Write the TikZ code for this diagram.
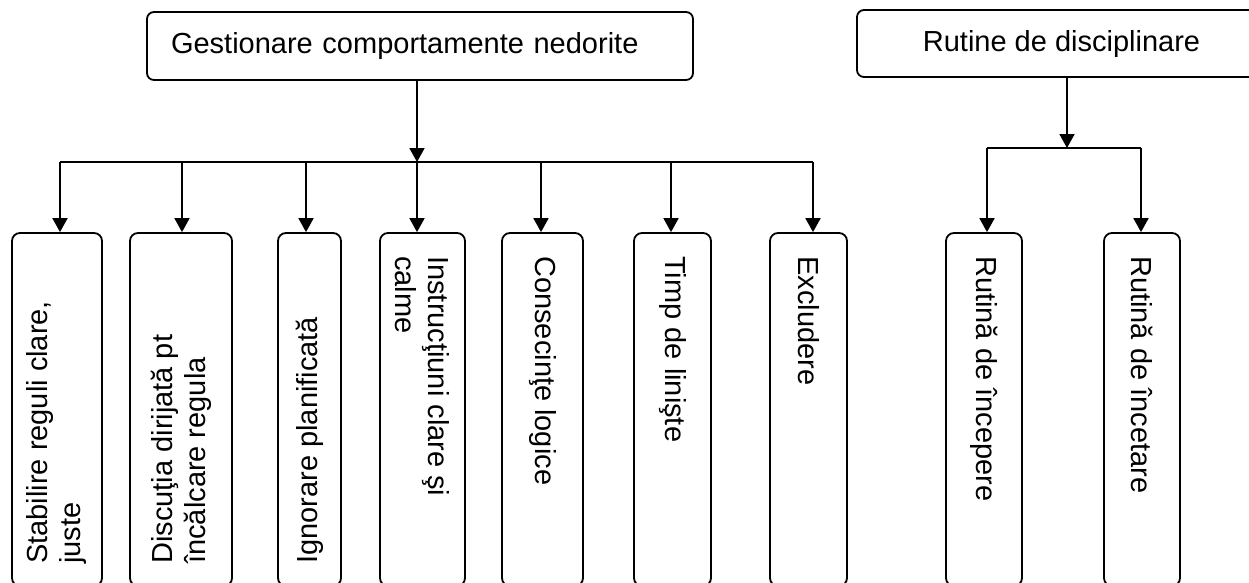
\documentclass[tikz,border=0pt]{standalone}
\usepackage{fontspec}
\setmainfont{Liberation Sans}
\usetikzlibrary{arrows.meta}
\tikzset{
    headbox/.style ={
        rectangle,              % box on top
        rounded corners = 7pt,  % corners
        line width = 1.8pt,     % border
        draw = black,           % border colour
        font = \fontsize{29}{33}\selectfont
    },
    leafbox/.style ={
        rectangle,              % tall box below
        rounded corners = 8pt,  % corners
        line width = 1.8pt,     % border
        minimum height = 353pt, % height
        inner sep = 0pt,
        draw = black
    },
    leaftext/.style ={
        inner sep = 0pt,        % text starts right at the anchor
        align = left,
        anchor = west,
        font = \fontsize{29}{33}\selectfont
    },
    arr/.style ={
        line width = 1.8pt,
        -{Triangle[length=14pt,width=15pt]}
    }
}
\begin{document}
\begin{tikzpicture}[x=1pt, y=-1pt]
    \useasboundingbox (0,0) rectangle (1249,582);
    \clip (0,0) rectangle (1249,582);
    \node[headbox, text width=498pt, inner xsep=24pt, minimum height=68pt, align=left] (a) at(420,46) {Gestionare comportamente nedorite};
    \node[headbox, minimum width=409pt, minimum height=67pt] (b) at(1061.5,43.5) {Rutine de disciplinare};

    \node[leafbox, minimum width=90pt]  (s1) at(57,409.5) {};
    \node[leafbox, minimum width=102pt] (s2) at(181,409.5) {};
    \node[leafbox, minimum width=63pt]  (s3) at(309.5,409.5) {};
    \node[leafbox, minimum width=85pt]  (s4) at(422.5,409.5) {};
    \node[leafbox, minimum width=81pt]  (s5) at(542.5,409.5) {};
    \node[leafbox, minimum width=77pt]  (s6) at(672.5,409.5) {};
    \node[leafbox, minimum width=77pt]  (s7) at(808.5,409.5) {};
    \node[leafbox, minimum width=76pt]  (s8) at(984,409.5) {};
    \node[leafbox, minimum width=76pt]  (s9) at(1142,409.5) {};

    \node[leaftext, rotate=90]  (t1) at([yshift=23pt]s1.south) {Stabilire reguli clare,\\juste};
    \node[leaftext, rotate=90]  (t2) at([yshift=23pt]s2.south) {Discuţia dirijată pt\\încălcare regula};
    \node[leaftext, rotate=90]  (t3) at([yshift=23pt]s3.south) {Ignorare planificată};
    \node[leaftext, rotate=-90] (t4) at([yshift=-24pt]s4.north) {Instrucţiuni clare şi\\calme};
    \node[leaftext, rotate=-90] (t5) at([yshift=-24pt]s5.north) {Consecinţe logice};
    \node[leaftext, rotate=-90] (t6) at([yshift=-24pt]s6.north) {Timp de linişte};
    \node[leaftext, rotate=-90] (t7) at([yshift=-24pt]s7.north) {Excludere};
    \node[leaftext, rotate=-90] (t8) at([yshift=-24pt]s8.north) {Rutină de începere};
    \node[leaftext, rotate=-90] (t9) at([yshift=-24pt]s9.north) {Rutină de încetare};

    % left bus
    \coordinate (l1) at(60,162);
    \coordinate (l2) at(182,162);
    \coordinate (l3) at(306,162);
    \coordinate (l4) at(417,162);
    \coordinate (l5) at(541,162);
    \coordinate (l6) at(671,162);
    \coordinate (l7) at(813,162);
    \draw[arr] (a.south -| l4) -- (l4);
    \draw[line width=1.8pt] (l1) -- (l7);
    \foreach \i in {1,...,7}
        \draw[arr] (l\i) -- (l\i |- s\i.north);

    % right bus
    \coordinate (r0) at(1067,148);
    \coordinate (r1) at(987,148);
    \coordinate (r2) at(1141,148);
    \draw[arr] (b.south -| r0) -- (r0);
    \draw[line width=1.8pt] (r1) -- (r2);
    \draw[arr] (r1) -- (r1 |- s8.north);
    \draw[arr] (r2) -- (r2 |- s9.north);
\end{tikzpicture}
\end{document}
